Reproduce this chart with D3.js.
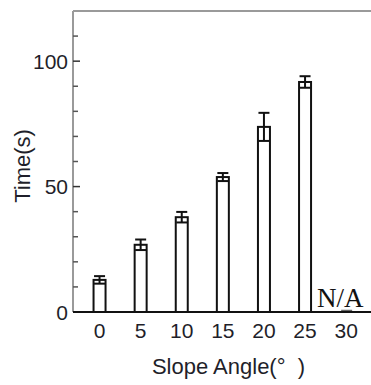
<!DOCTYPE html>
<html>
<head>
<meta charset="utf-8">
<script src="https://cdn.jsdelivr.net/npm/d3@7"></script>
<style>
  html, body { margin: 0; padding: 0; background: #fff; }
  svg { display: block; }
  text { font-family: "Liberation Sans", Arial, sans-serif; fill: #1f1f2a; }
</style>
</head>
<body>
<svg id="chart" width="371" height="385"></svg>
<script>
const ANGLES = ['0', '5', '10', '15', '20', '25', '30'];
const MEANS = [12.8, 26.8, 37.8, 53.8, 73.8, 91.7, null];
const SDS = [1.5, 2.1, 2.1, 1.6, 5.6, 2.3, null];
const MAJOR_TICKS = [0, 50, 100];
const MINOR_TICKS = [10, 20, 30, 40, 60, 70, 80, 90, 110];
const MISSING_LABEL = 'N/A';

const svg = d3.select('#chart');
const plotL = 73, plotR = 371, plotT = 11, plotB = 312;

const x = d3.scalePoint().domain(ANGLES).range([79, 366.7]).padding(0.5);
const y = d3.scaleLinear().domain([0, 120]).range([plotB, plotT]);
const barW = 12, capW = 11;

const data = ANGLES.map((a, i) => ({ a, m: MEANS[i], sd: SDS[i] }));

// frame: top line + left axis (gray)
svg.append('line').attr('x1', plotL).attr('x2', plotR).attr('y1', plotT).attr('y2', plotT)
  .attr('stroke', '#9a9a9a').attr('stroke-width', 2);
svg.append('line').attr('x1', plotL).attr('x2', plotL).attr('y1', plotT).attr('y2', plotB)
  .attr('stroke', '#9a9a9a').attr('stroke-width', 2);

// y ticks inward
svg.selectAll('.minor').data(MINOR_TICKS).enter().append('line')
  .attr('x1', plotL).attr('x2', plotL + 5)
  .attr('y1', d => y(d)).attr('y2', d => y(d))
  .attr('stroke', '#555').attr('stroke-width', 1.5);
svg.selectAll('.major').data(MAJOR_TICKS).enter().append('line')
  .attr('x1', plotL).attr('x2', plotL + 7)
  .attr('y1', d => y(d)).attr('y2', d => y(d))
  .attr('stroke', '#333').attr('stroke-width', 1.5);
svg.selectAll('.ylab').data(MAJOR_TICKS).enter().append('text')
  .attr('x', plotL - 5).attr('y', d => y(d)).attr('dy', '0.36em')
  .attr('text-anchor', 'end').attr('font-size', 21).text(d => d);

// bars
const shown = data.filter(d => d.m != null);
svg.selectAll('.bar').data(shown).enter().append('rect')
  .attr('x', d => x(d.a) - barW / 2).attr('width', barW)
  .attr('y', d => y(d.m)).attr('height', d => y(0) - y(d.m))
  .attr('fill', '#fff').attr('stroke', '#111').attr('stroke-width', 2);

// error bars
const eb = svg.selectAll('.err').data(shown).enter().append('g');
eb.append('line').attr('x1', d => x(d.a)).attr('x2', d => x(d.a))
  .attr('y1', d => y(d.m + d.sd)).attr('y2', d => y(d.m - d.sd))
  .attr('stroke', '#111').attr('stroke-width', 2);
eb.append('line').attr('x1', d => x(d.a) - capW / 2).attr('x2', d => x(d.a) + capW / 2)
  .attr('y1', d => y(d.m + d.sd)).attr('y2', d => y(d.m + d.sd))
  .attr('stroke', '#111').attr('stroke-width', 2);
eb.append('line').attr('x1', d => x(d.a) - capW / 2).attr('x2', d => x(d.a) + capW / 2)
  .attr('y1', d => y(d.m - d.sd)).attr('y2', d => y(d.m - d.sd))
  .attr('stroke', '#111').attr('stroke-width', 2);

// missing category
const miss = data.filter(d => d.m == null);
svg.selectAll('.miss').data(miss).enter().append('line')
  .attr('x1', d => x(d.a) - 5).attr('x2', d => x(d.a) + 6)
  .attr('y1', y(0) - 1.5).attr('y2', y(0) - 1.5)
  .attr('stroke', '#666').attr('stroke-width', 1.5);
svg.selectAll('.misslab').data(miss).enter().append('text')
  .attr('x', d => x(d.a) - 6).attr('y', y(0) - 5)
  .attr('text-anchor', 'middle')
  .style('font-family', '"Liberation Serif", "Times New Roman", serif')
  .style('fill', '#111')
  .attr('font-size', 27).text(MISSING_LABEL);

// x axis
svg.append('line').attr('x1', plotL).attr('x2', plotR).attr('y1', plotB).attr('y2', plotB)
  .attr('stroke', '#111').attr('stroke-width', 2);
svg.selectAll('.xlab').data(ANGLES).enter().append('text')
  .attr('x', d => x(d)).attr('y', 338)
  .attr('text-anchor', 'middle').attr('font-size', 21).text(d => d);

// titles
svg.append('text').attr('x', 228.5).attr('y', 374)
  .attr('text-anchor', 'middle').attr('font-size', 22)
  .style('white-space', 'pre').text('Slope Angle(°  )');
svg.append('text').attr('transform', 'translate(30,166) rotate(-90)')
  .attr('text-anchor', 'middle').attr('font-size', 22).text('Time(s)');
</script>
</body>
</html>
